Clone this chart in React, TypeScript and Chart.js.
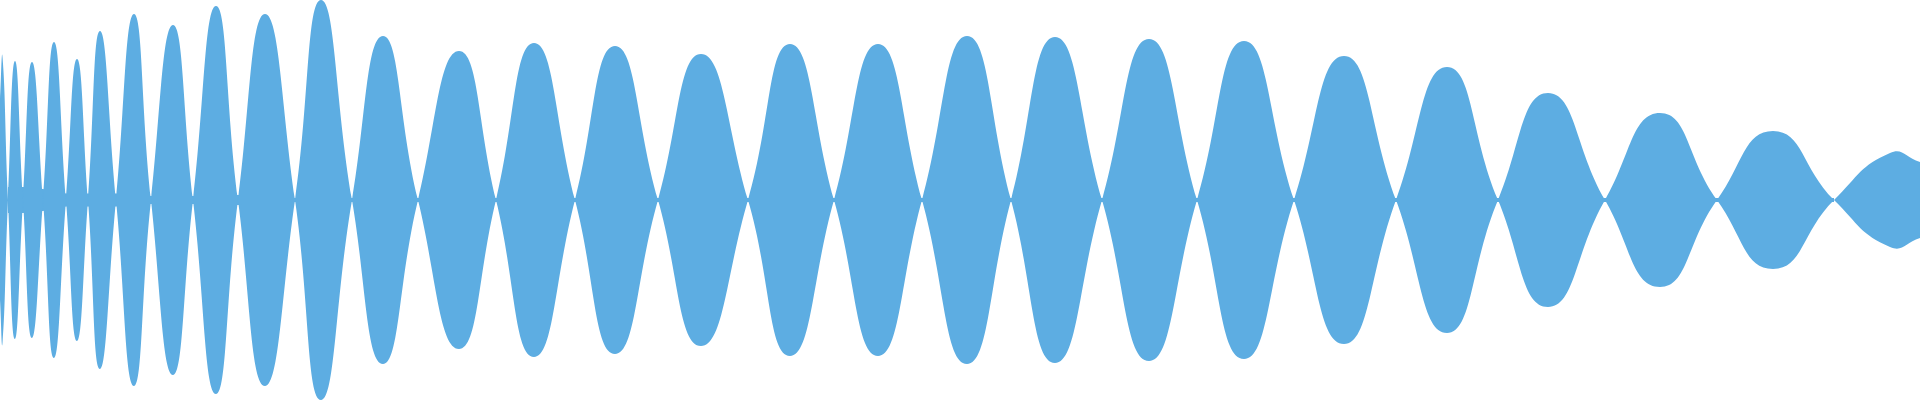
import React, { useEffect, useRef } from "react";
import { Chart, registerables } from "chart.js";

Chart.register(...registerables);

// Amplitude (half-height) at the left and right edges of the waveform
const edgeStartX = 0;
const edgeStartAmp = 100;
const edgeEndX = 1920;
const edgeEndAmp = 38;

// Lobe peaks: position and half-height
const peakX = [
  2.5, 15, 32, 54, 77, 100, 134, 173, 216, 265, 321, 383, 459, 534, 615, 701,
  790, 878, 967, 1055, 1149, 1244, 1344, 1447, 1548, 1660, 1773, 1890,
];
const peakAmp = [
  143, 139, 138, 158, 141, 169, 186, 175, 194, 186, 200, 164, 149, 157, 154,
  146, 156, 156, 164, 163, 161, 159, 144, 133, 107, 87, 69, 47,
];

// Nodes (zero crossings) between lobes and the residual half-height there
const nodeX = [
  8, 23, 43, 66, 88, 116, 151, 193, 238, 295, 352, 418, 496, 575, 658, 748,
  834, 922, 1011, 1102, 1197, 1294, 1396, 1498, 1605, 1717, 1834,
];
const nodeGap = [
  13, 13, 11, 6.5, 6.5, 6.5, 4, 4, 5, 2, 2, 2, 2, 2, 2, 2, 2, 2, 2, 2, 2, 2, 2,
  2, 2, 2, 2,
];

const FILL = "#5dade2";

function buildWave(sign: number) {
  const pts: { x: number; y: number }[] = [];
  pts.push({ x: edgeStartX, y: sign * edgeStartAmp });
  peakX.forEach((px, i) => {
    const s = sign * (i % 2 === 0 ? 1 : -1);
    pts.push({ x: px, y: s * peakAmp[i] });
    if (i < nodeX.length) pts.push({ x: nodeX[i], y: 0 });
  });
  const last = peakX.length - 1;
  pts.push({ x: edgeEndX, y: sign * (last % 2 === 0 ? 1 : -1) * edgeEndAmp });
  return pts;
}

function buildBand(sign: number) {
  return nodeX.map((x, i) => ({ x, y: sign * nodeGap[i] }));
}

export default function App() {
  const ref = useRef<HTMLCanvasElement>(null);

  useEffect(() => {
    if (!ref.current) return;
    const waveStyle = {
      backgroundColor: FILL,
      borderColor: FILL,
      borderWidth: 0,
      pointRadius: 0,
      tension: 0.5,
    };
    const bandStyle = {
      backgroundColor: FILL,
      borderColor: FILL,
      borderWidth: 0,
      pointRadius: 0,
      tension: 0,
    };
    const chart = new Chart(ref.current, {
      type: "line",
      data: {
        datasets: [
          { ...waveStyle, data: buildWave(1), fill: "+1" },
          { ...waveStyle, data: buildWave(-1), fill: false },
          { ...bandStyle, data: buildBand(1), fill: "+1" },
          { ...bandStyle, data: buildBand(-1), fill: false },
        ],
      },
      options: {
        responsive: false,
        animation: false,
        layout: { padding: 0 },
        plugins: {
          legend: { display: false },
          tooltip: { enabled: false },
        },
        scales: {
          x: { type: "linear", min: 0, max: 1920, display: false },
          y: { type: "linear", min: -200, max: 200, display: false },
        },
      },
    } as any);
    return () => chart.destroy();
  }, []);

  return (
    <div
      style={{
        position: "fixed",
        left: 0,
        top: 0,
        width: 1920,
        height: 400,
        background: "#ffffff",
      }}
    >
      <canvas
        ref={ref}
        width={1920}
        height={400}
        style={{ display: "block", width: 1920, height: 400 }}
      />
    </div>
  );
}
